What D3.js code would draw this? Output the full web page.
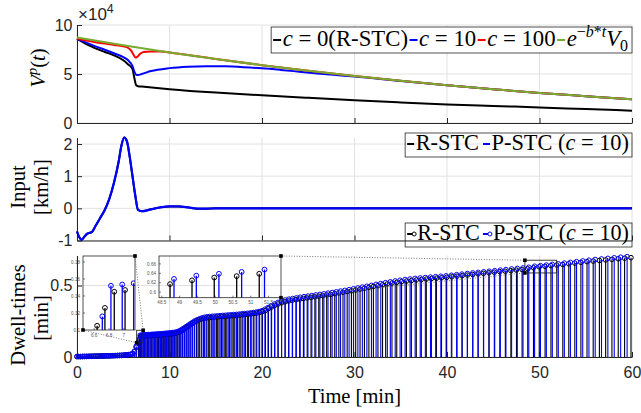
<!DOCTYPE html>
<html><head><meta charset="utf-8">
<script src="https://cdn.jsdelivr.net/npm/d3@7"></script>
<style>body{margin:0;background:#fff}svg{display:block}</style>
</head><body>
<svg id="c" width="641" height="413"></svg>
<script>
// ---------------- DATA ----------------
const xTicks = [0,10,20,30,40,50,60];
const topTicks = [0,5,10];
const midTicks = [-1,0,1,2];
const botTicks = [0,0.5];

// V^p(t) (x10^4)
const kT = [0,1,2,3,4,5,5.5,6,6.2,6.4,6.6,7,10,15,20,25,30,35,40,45,50,55,60];
const kV = [8.6,8.05,7.62,7.25,6.9,6.4,6.0,5.5,4.6,3.85,3.76,3.72,3.45,3.1,2.83,2.57,2.32,2.1,1.9,1.74,1.59,1.42,1.26];
const bT = [0,1,2,3,4,5,5.5,6,6.2,6.4,6.6,7,8,10,12,14,16,18,20,22,24,26,28,30,35,40,45,50,55,60];
const bV = [8.6,8.2,7.82,7.48,7.12,6.72,6.42,5.8,5.25,4.92,4.9,5.0,5.3,5.6,5.75,5.8,5.78,5.7,5.58,5.42,5.24,5.06,4.9,4.75,4.28,3.84,3.44,3.07,2.74,2.42];
const rT = [0,1,2,3,4,5,5.5,5.8,6.1,6.3,6.5,6.8,7.2,8,9,9.5,10,15,20,25,30,35,40,45,50,55,60];
const rV = [8.62,8.42,8.25,8.1,7.97,7.82,7.68,7.45,7.0,6.68,6.75,7.05,7.25,7.3,7.3,7.26,7.2,6.53,5.9,5.33,4.8,4.3,3.85,3.44,3.07,2.74,2.42];
const gT = [0,5,10,15,20,25,30,35,40,45,50,55,60];
const gV = [8.72,7.93,7.2,6.53,5.9,5.33,4.8,4.3,3.85,3.44,3.07,2.74,2.42];

// Input [km/h]
const uT = [0,0.25,0.5,0.8,1.1,1.6,2,2.5,3,3.5,4,4.5,4.8,5.1,5.4,5.7,6,6.3,6.6,7,8,9,10,11,12,13,14,15,20,30,40,50,60];
const uP = [-0.72,-0.9,-0.98,-0.88,-0.79,-0.74,-0.55,-0.3,-0.05,0.3,0.8,1.45,1.95,2.2,2.08,1.6,1.0,0.4,-0.05,-0.09,-0.03,0.03,0.06,0.06,0.03,-0.01,-0.01,0,0,0,0,0,0];
const uR = [-0.72,-0.9,-0.98,-0.88,-0.79,-0.74,-0.55,-0.3,-0.05,0.3,0.8,1.45,1.95,2.2,2.08,1.6,1.0,0.4,-0.05,-0.09,-0.03,0.03,0.06,0.06,0.03,-0.01,-0.01,0,0,0,0,0,0];

// Dwell-times [min]: early dense part (sampled stems) ...
const earlyT = [0,0.2,0.4,0.6,0.8,1,1.2,1.4,1.6,1.8,2,2.2,2.4,2.6,2.8,3,3.2,3.4,3.6,3.8,4,4.2,4.4,4.6,4.8,5,5.2,5.4,5.6,5.8,6,6.2,6.4];
const earlyP = [0.003,0.003,0.003,0.004,0.004,0.004,0.005,0.005,0.005,0.006,0.006,0.006,0.007,0.007,0.007,0.008,0.008,0.008,0.009,0.009,0.010,0.010,0.011,0.011,0.012,0.013,0.014,0.015,0.017,0.019,0.024,0.040,0.075];
const earlyR = [0.003,0.003,0.003,0.003,0.004,0.004,0.004,0.005,0.005,0.005,0.006,0.006,0.006,0.007,0.007,0.007,0.008,0.008,0.008,0.009,0.009,0.010,0.010,0.011,0.011,0.012,0.013,0.014,0.016,0.018,0.022,0.036,0.068];
// ... then successive dwell times (each stem is placed one dwell after the previous one)
const startP = 6.71;
const dwellP = [0.116,0.152,0.1535,0.155,0.155,0.156,0.156,0.157,0.157,0.158,
0.159,0.159,0.160,0.161,0.161,0.162,0.163,0.164,0.165,0.166,
0.167,0.168,0.169,0.171,0.172,0.174,0.177,0.182,0.188,0.196,
0.204,0.213,0.222,0.232,0.242,0.252,0.260,0.267,0.273,0.278,
0.281,0.283,0.285,0.286,0.288,0.289,0.291,0.292,0.294,0.295,
0.297,0.298,0.300,0.302,0.304,0.306,0.308,0.311,0.314,0.318,
0.324,0.334,0.346,0.359,0.371,0.382,0.391,0.398,0.404,0.409,
0.413,0.418,0.422,0.426,0.430,0.434,0.438,0.442,0.447,0.451,
0.456,0.461,0.466,0.471,0.477,0.483,0.489,0.495,0.501,0.508,
0.514,0.520,0.526,0.532,0.537,0.542,0.546,0.550,0.553,0.556,
0.559,0.562,0.565,0.568,0.572,0.576,0.580,0.584,0.588,0.592,
0.596,0.600,0.604,0.608,0.612,0.616,0.620,0.623,0.628,0.635,
0.639,0.643,0.648,0.652,0.657,0.662,0.667,0.672,0.677,0.682,
0.686,0.690,0.694,0.698,0.702];
const startR = 6.64;
const dwellR = [0.105,0.126,0.145,0.147,0.148,0.148,0.149,0.149,0.150,0.150,
0.151,0.151,0.152,0.152,0.153,0.154,0.154,0.155,0.156,0.157,
0.158,0.159,0.160,0.161,0.162,0.163,0.165,0.167,0.170,0.175,
0.181,0.188,0.196,0.205,0.214,0.224,0.234,0.244,0.252,0.259,
0.265,0.270,0.273,0.275,0.277,0.278,0.280,0.281,0.283,0.284,
0.286,0.287,0.289,0.290,0.292,0.294,0.296,0.298,0.300,0.302,
0.305,0.308,0.312,0.318,0.326,0.338,0.350,0.361,0.371,0.379,
0.386,0.392,0.397,0.401,0.405,0.409,0.413,0.417,0.421,0.425,
0.429,0.434,0.438,0.443,0.448,0.453,0.458,0.463,0.469,0.475,
0.481,0.487,0.493,0.499,0.505,0.511,0.517,0.522,0.527,0.531,
0.535,0.539,0.542,0.545,0.548,0.551,0.554,0.557,0.561,0.565,
0.569,0.573,0.577,0.581,0.585,0.589,0.593,0.597,0.600,0.604,
0.608,0.612,0.617,0.625,0.631,0.634,0.639,0.643,0.647,0.652,
0.657,0.662,0.667,0.671,0.675,0.679,0.683,0.687,0.691,0.695];

// inset windows
const inL = {xd:[6.45,7.15], yd:[0.1,0.187], xt:[6.6,6.8,7], yt:[0.1,0.12,0.14,0.16,0.18]};
const inR = {xd:[48.42,51.85], yd:[0.588,0.677], xt:[48.5,49,49.5,50,50.5,51,51.5], yt:[0.6,0.62,0.64,0.66]};

// ---------------- DRAW ----------------
const svg = d3.select('#c');
const AX = '#262626', GRID = '#e2e2e2';
const SANS = "Liberation Sans, Arial, Helvetica, DejaVu Sans, sans-serif";
const SERIF = "Liberation Serif, Times New Roman, DejaVu Serif, Noto Serif, serif";
const LABFS = 20.5;
const x = d3.scaleLinear().domain([0,60]).range([77,632]);
const yTop = d3.scaleLinear().domain([0,10]).range([123,25]);
const yMid = d3.scaleLinear().domain([-1,2.2]).range([240.5,137.6]);
const yBot = d3.scaleLinear().domain([0,0.71]).range([357,255.5]);

function panel(y, yt, showX){
  const g = svg.append('g');
  const [yb, ytp] = y.range();
  g.selectAll(null).data(xTicks).enter().append('line')
    .attr('x1',d=>x(d)).attr('x2',d=>x(d)).attr('y1',yb).attr('y2',ytp)
    .attr('stroke',GRID).attr('stroke-width',1);
  g.selectAll(null).data(yt).enter().append('line')
    .attr('x1',x.range()[0]).attr('x2',x.range()[1]).attr('y1',d=>y(d)).attr('y2',d=>y(d))
    .attr('stroke',GRID).attr('stroke-width',1);
  const ax = g.append('g').attr('transform',`translate(0,${yb})`)
    .call(d3.axisBottom(x).tickValues(xTicks).tickSizeInner(-5).tickSizeOuter(0).tickPadding(9.5)
      .tickFormat(showX? (d=>String(d)) : (()=>'')));
  const ay = g.append('g').attr('transform',`translate(${x.range()[0]},0)`)
    .call(d3.axisLeft(y).tickValues(yt).tickSizeInner(-5).tickSizeOuter(0).tickPadding(4.5)
      .tickFormat(d=>String(d)));
  [ax,ay].forEach(a=>{
    a.select('.domain').attr('stroke',AX).attr('stroke-width',1);
    a.selectAll('.tick line').attr('stroke',AX);
    a.selectAll('text').attr('font-family',SANS).attr('font-size',16).attr('fill',AX);
  });
  return g;
}
panel(yTop, topTicks, false);
panel(yMid, midTicks, false);
panel(yBot, botTicks, true);

function mathText(sel, segs, fs){
  let cur = 0;
  segs.forEach(s=>{
    const ts = sel.append('tspan').text(s.t);
    if (s.i) ts.attr('font-style','italic');
    const target = s.sup ? -0.4*fs : (s.sub ? 0.22*fs : 0);
    if (target !== cur) ts.attr('dy', target-cur);
    cur = target;
    if (s.sup || s.sub) ts.attr('font-size', (fs*0.7).toFixed(2));
  });
}

// top panel curves
const lineTop = (T,V)=> d3.line().x((d,i)=>x(T[i])).y((d,i)=>yTop(V[i])).curve(d3.curveMonotoneX)(V);
[[kT,kV,'#000000'],[bT,bV,'#0000ff'],[rT,rV,'#ff0000'],[gT,gV,'#77ac30']].forEach(([T,V,c])=>{
  svg.append('path').attr('d',lineTop(T,V)).attr('fill','none').attr('stroke',c).attr('stroke-width',2);
});
// x10^4
const ex = svg.append('text').attr('x',78).attr('y',20).attr('font-family',SANS).attr('font-size',17).attr('fill',AX);
ex.append('tspan').text('\u00d710');
ex.append('tspan').text('4').attr('font-size',12.5).attr('dy',-7);

// middle panel
const lineMid = (T,V)=> d3.line().x((d,i)=>x(T[i])).y((d,i)=>yMid(V[i])).curve(d3.curveMonotoneX)(V);
svg.append('path').attr('d',lineMid(uT,uR)).attr('fill','none').attr('stroke','#000').attr('stroke-width',2);
svg.append('path').attr('d',lineMid(uT,uP)).attr('fill','none').attr('stroke','#0000ff').attr('stroke-width',2.2);

// bottom panel stems
function buildStems(et, ev, t0, dw){
  const out = et.map((t,i)=>({t:t, v:ev[i]}));
  let t = t0;
  dw.forEach(v=>{ out.push({t:t, v:v}); t += v; });
  return out;
}
const stemsR = buildStems(earlyT, earlyR, startR, dwellR);
const stemsP = buildStems(earlyT, earlyP, startP, dwellP);
[[stemsR,'#000000'],[stemsP,'#0000ff']].forEach(([s,c])=>{
  const g = svg.append('g');
  g.selectAll(null).data(s).enter().append('line')
    .attr('x1',d=>x(d.t)).attr('x2',d=>x(d.t)).attr('y1',yBot(0)).attr('y2',d=>yBot(d.v))
    .attr('stroke',c).attr('stroke-width',1.1);
  g.selectAll(null).data(s).enter().append('circle')
    .attr('cx',d=>x(d.t)).attr('cy',d=>yBot(d.v)).attr('r',2.3)
    .attr('fill','none').attr('stroke',c).attr('stroke-width',1);
});

// insets
let clipN = 0;
function inset(r, spec, connect){
  const ix = d3.scaleLinear().domain(spec.xd).range([r.x0,r.x1]);
  const iy = d3.scaleLinear().domain(spec.yd).range([r.y1,r.y0]);
  const id = 'ic'+(clipN++);
  svg.append('clipPath').attr('id',id).append('rect')
    .attr('x',r.x0).attr('y',r.y0).attr('width',r.x1-r.x0).attr('height',r.y1-r.y0);
  const g = svg.append('g');
  spec.xt.forEach(v=>{
    g.append('line').attr('x1',ix(v)).attr('x2',ix(v)).attr('y1',r.y1).attr('y2',r.y1-2).attr('stroke',AX).attr('stroke-width',0.6);
    g.append('text').attr('x',ix(v)).attr('y',r.y1+6.5).attr('text-anchor','middle')
      .attr('font-family',SANS).attr('font-size',4.6).attr('fill','#555').text(String(v));
  });
  spec.yt.forEach(v=>{
    g.append('line').attr('x1',r.x0).attr('x2',r.x0+2).attr('y1',iy(v)).attr('y2',iy(v)).attr('stroke',AX).attr('stroke-width',0.6);
    g.append('text').attr('x',r.x0-3).attr('y',iy(v)+1.6).attr('text-anchor','end')
      .attr('font-family',SANS).attr('font-size',4.6).attr('fill','#555').text(String(v));
  });
  const dg = g.append('g').attr('clip-path',`url(#${id})`);
  [[stemsR,'#000000'],[stemsP,'#0000ff']].forEach(([s,c])=>{
    const sel = s.filter(d=>d.t>=spec.xd[0] && d.t<=spec.xd[1]);
    dg.selectAll(null).data(sel).enter().append('line')
      .attr('x1',d=>ix(d.t)).attr('x2',d=>ix(d.t)).attr('y1',r.y1+2).attr('y2',d=>iy(d.v))
      .attr('stroke',c).attr('stroke-width',1.3);
    dg.selectAll(null).data(sel).enter().append('circle')
      .attr('cx',d=>ix(d.t)).attr('cy',d=>iy(d.v)).attr('r',2.4)
      .attr('fill','none').attr('stroke',c).attr('stroke-width',1);
  });
  g.append('rect').attr('x',r.x0).attr('y',r.y0).attr('width',r.x1-r.x0).attr('height',r.y1-r.y0)
    .attr('fill','none').attr('stroke',AX).attr('stroke-width',0.8);
  const bx0 = x(spec.xd[0]), bx1 = x(spec.xd[1]), by0 = yBot(spec.yd[1]), by1 = yBot(spec.yd[0]);
  svg.append('rect').attr('x',bx0).attr('y',by0).attr('width',bx1-bx0).attr('height',by1-by0)
    .attr('fill','none').attr('stroke',AX).attr('stroke-width',0.9);
  const corners = {ix0:r.x0, ix1:r.x1, iy0:r.y0, iy1:r.y1, bx0, bx1, by0, by1};
  connect.forEach(([a,b,c2,d])=>{
    const p = [corners[a],corners[b],corners[c2],corners[d]];
    svg.append('line').attr('x1',p[0]).attr('y1',p[1]).attr('x2',p[2]).attr('y2',p[3])
      .attr('stroke','#555').attr('stroke-width',0.8).attr('stroke-dasharray','1,1.6');
    [[p[0],p[1]],[p[2],p[3]]].forEach(([px,py])=>{
      svg.append('rect').attr('x',px-1.8).attr('y',py-1.8).attr('width',3.6).attr('height',3.6).attr('fill','#000');
    });
  });
}
inset({x0:83,x1:135,y0:256,y1:330}, inL, [['ix1','iy0','bx1','by0'],['ix0','iy1','bx0','by1']]);
inset({x0:159,x1:281,y0:256,y1:297.7}, inR, [['ix1','iy0','bx0','by0'],['ix1','iy1','bx0','by1']]);

// legends
function legend(entries, o){
  const g = svg.append('g');
  const rect = g.append('rect');
  const items = g.append('g');
  function layout(fs){
    items.selectAll('*').remove();
    let cx = o.padL, textW = 0;
    entries.forEach((e,k)=>{
      items.append('line').attr('x1',cx).attr('x2',cx+o.sample).attr('y1',o.base-6).attr('y2',o.base-6)
        .attr('stroke',e.color).attr('stroke-width',2);
      if (e.marker) items.append('circle').attr('cx',cx+o.sample).attr('cy',o.base-6).attr('r',2)
        .attr('fill','#fff').attr('stroke',e.color).attr('stroke-width',1);
      const t = items.append('text').attr('x',cx+o.sample+o.gap).attr('y',o.base)
        .attr('font-family',SERIF).attr('font-size',fs).attr('fill','#000');
      mathText(t, e.segs, fs);
      const w = t.node().getComputedTextLength();
      textW += w;
      cx += o.sample + o.gap + w + (k<entries.length-1 ? o.gap2 : 0);
    });
    return {total: cx + o.padR, textW};
  }
  let fs = 20, L = layout(fs);
  const fixed = L.total - L.textW;
  fs = Math.max(15, Math.min(23, fs*(o.width-fixed)/L.textW));
  L = layout(fs);
  rect.attr('x',0).attr('y',o.y0).attr('width',L.total).attr('height',o.h)
    .attr('fill',o.fill).attr('stroke',AX).attr('stroke-width',0.8);
  g.attr('transform',`translate(${o.right-L.total},0)`);
}
const cEq = v => [{t:'c',i:1},{t:' = '+v}];
legend([
  {segs:[{t:'c',i:1},{t:' = 0(R-STC)'}], color:'#000000'},
  {segs:cEq('10'), color:'#0000ff'},
  {segs:cEq('100'), color:'#ff0000'},
  {segs:[{t:'e',i:1},{t:'\u2212',sup:1},{t:'b',i:1,sup:1},{t:'*',sup:1},{t:'t',i:1,sup:1},{t:'V',i:1},{t:'0',sub:1}], color:'#77ac30'}
], {right:632, width:361, y0:27, h:26, base:46, padL:2, padR:4, sample:8, gap:1.5, gap2:1.5, fill:'#fff'});
legend([
  {segs:[{t:'R-STC'}], color:'#000000'},
  {segs:[{t:'P-STC ('},{t:'c',i:1},{t:' = 10)'}], color:'#0000ff'}
], {right:632, width:227, y0:133, h:24, base:150, padL:2, padR:3, sample:7, gap:1.5, gap2:4, fill:'none'});
legend([
  {segs:[{t:'R-STC'}], color:'#000000', marker:1},
  {segs:[{t:'P-STC ('},{t:'c',i:1},{t:' = 10)'}], color:'#0000ff', marker:1}
], {right:632, width:227, y0:223, h:24, base:240, padL:2, padR:3, sample:7, gap:3, gap2:3, fill:'none'});

// axis labels
function ylab(xp, yp, segs){
  const t = svg.append('text').attr('transform',`translate(${xp},${yp}) rotate(-90)`)
    .attr('text-anchor','middle').attr('font-family',SERIF).attr('font-size',LABFS).attr('fill','#000');
  mathText(t, segs, LABFS);
}
ylab(45, 68, [{t:'V',i:1},{t:'p',i:1,sup:1},{t:'('},{t:'t',i:1},{t:')'}]);
ylab(25, 187, [{t:'Input'}]);
ylab(48, 187, [{t:'[km/h]'}]);
ylab(25, 315, [{t:'Dwell-times'}]);
ylab(48, 318, [{t:'[min]'}]);
svg.append('text').attr('x',354.5).attr('y',403).attr('text-anchor','middle')
  .attr('font-family',SERIF).attr('font-size',LABFS).attr('fill','#000').text('Time [min]');
</script>
</body></html>
